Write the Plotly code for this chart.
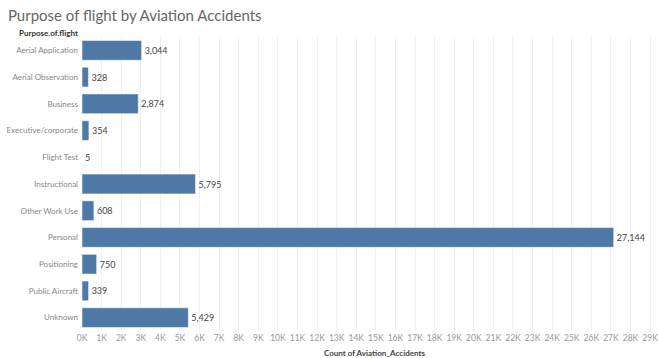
import plotly.graph_objects as go

# Accident counts by purpose of flight
purposes = [
    "Aerial Application", "Aerial Observation", "Business", "Executive/corporate",
    "Flight Test", "Instructional", "Other Work Use", "Personal", "Positioning",
    "Public Aircraft", "Unknown",
]
counts = [3044, 328, 2874, 354, 5, 5795, 608, 27144, 750, 339, 5429]

tick_vals = [i * 1000 for i in range(30)]
tick_text = [f"{i}K" for i in range(30)]

FONT = "Lato, Open Sans, sans-serif"

fig = go.Figure(
    go.Bar(
        x=counts,
        y=purposes,
        orientation="h",
        width=0.74,
        marker=dict(color="#4e79a7", line=dict(color="rgba(255,255,255,0.55)", width=1)),
        text=[f"{c:,}" for c in counts],
        textposition="outside",
        cliponaxis=False,
        textfont=dict(family=FONT, size=9, color="#444"),
        hoverinfo="skip",
    )
)

fig.update_layout(
    width=658,
    height=358,
    margin=dict(l=82, r=0, t=37, b=27),
    paper_bgcolor="white",
    plot_bgcolor="white",
    showlegend=False,
    font=dict(family=FONT),
    title=dict(
        text="Purpose of flight by Aviation Accidents",
        x=0.012, xanchor="left", y=0.955, yanchor="middle",
        font=dict(family=FONT, size=15, color="#666"),
    ),
    xaxis=dict(
        range=[0, 29200],
        tickvals=tick_vals,
        ticktext=tick_text,
        tickfont=dict(family=FONT, size=8.5, color="#999"),
        ticklabeloverflow="allow",
        showgrid=True,
        gridcolor="#f0f0f0",
        gridwidth=1,
        zeroline=False,
        showline=False,
        ticks="",
        fixedrange=True,
    ),
    yaxis=dict(
        categoryorder="array",
        categoryarray=purposes,
        autorange="reversed",
        tickfont=dict(family=FONT, size=8, color="#888"),
        ticks="",
        ticklabelstandoff=3,
        showgrid=False,
        zeroline=False,
        showline=False,
        fixedrange=True,
    ),
    annotations=[
        dict(
            text="<b>Purpose.of.flight</b>", xref="paper", yref="paper",
            x=-0.004, y=1.0136, xanchor="right", yanchor="middle", showarrow=False,
            font=dict(family=FONT, size=8, color="#333"),
        ),
        dict(
            text="<b>Count of Aviation_Accidents</b>", xref="paper", yref="paper",
            x=0.512, y=-0.074, xanchor="center", yanchor="middle", showarrow=False,
            font=dict(family=FONT, size=8, color="#444"),
        ),
    ],
)

fig.write_html("out.html")
